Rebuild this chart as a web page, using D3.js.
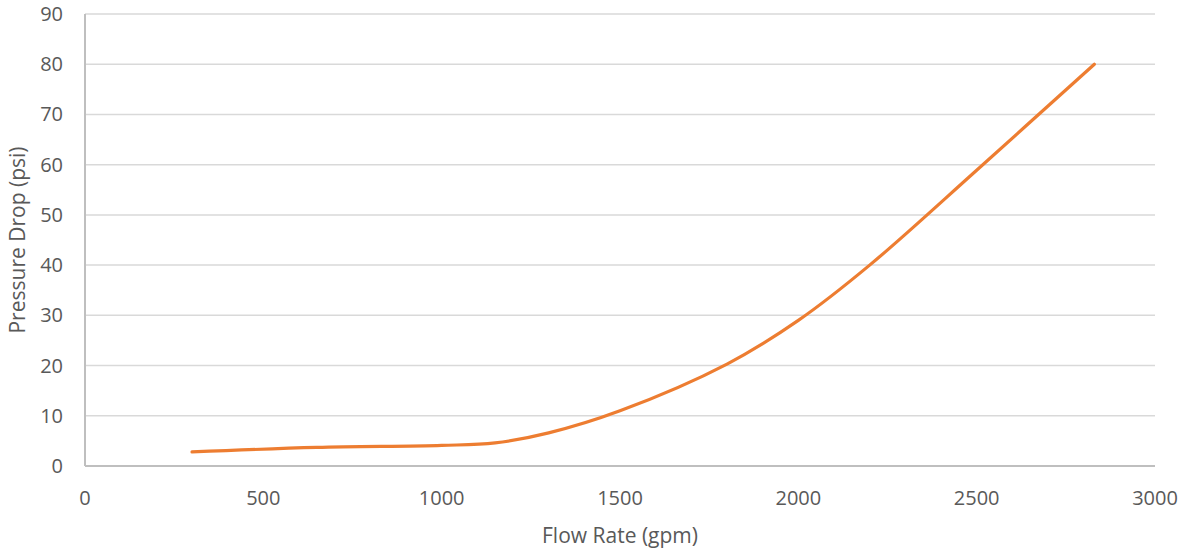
<!DOCTYPE html>
<html>
<head>
<meta charset="utf-8">
<script src="https://cdn.jsdelivr.net/npm/d3@7"></script>
<style>
  body { margin: 0; background: #fff; }
  text { font-family: "Open Sans", sans-serif; fill: #595959; }
</style>
</head>
<body>
<svg id="svg" width="1180" height="550"></svg>
<script>
// values
var flow = [300, 650, 1000, 1150, 1300, 1500, 1800, 2000, 2200, 2500, 2830];
var pressure = [2.8, 3.7, 4.1, 4.6, 6.6, 11, 20.3, 29, 40, 58.9, 80];
var xTicks = [0, 500, 1000, 1500, 2000, 2500, 3000];
var yTicks = [0, 10, 20, 30, 40, 50, 60, 70, 80, 90];

var svg = d3.select("#svg");
var plotLeft = 85, plotRight = 1155, plotTop = 14, plotBottom = 466;

var x = d3.scaleLinear().domain([0, 3000]).range([plotLeft, plotRight]);
var y = d3.scaleLinear().domain([0, 90]).range([plotBottom, plotTop]);

// gridlines
svg.append("g").selectAll("line").data(yTicks.filter(function(d) { return d > 0; })).enter()
  .append("line")
  .attr("x1", plotLeft).attr("x2", plotRight)
  .attr("y1", function(d) { return y(d); })
  .attr("y2", function(d) { return y(d); })
  .attr("stroke", "#d9d9d9")
  .attr("stroke-width", 1.5);

// axis lines
svg.append("line")
  .attr("x1", plotLeft).attr("x2", plotRight).attr("y1", y(0)).attr("y2", y(0))
  .attr("stroke", "#bfbfbf").attr("stroke-width", 2);
svg.append("line")
  .attr("x1", plotLeft).attr("x2", plotLeft).attr("y1", y(0)).attr("y2", y(90))
  .attr("stroke", "#bfbfbf").attr("stroke-width", 2);

// tick labels
svg.append("g").selectAll("text").data(yTicks).enter()
  .append("text")
  .attr("x", 63)
  .attr("y", function(d) { return y(d); })
  .attr("dy", "0.35em")
  .attr("text-anchor", "end")
  .attr("font-size", 20)
  .text(function(d) { return d; });

svg.append("g").selectAll("text").data(xTicks).enter()
  .append("text")
  .attr("x", function(d) { return x(d); })
  .attr("y", 498)
  .attr("dy", "0.35em")
  .attr("text-anchor", "middle")
  .attr("font-size", 20)
  .text(function(d) { return d; });

// axis titles
svg.append("text")
  .attr("x", (plotLeft + plotRight) / 2)
  .attr("y", 536)
  .attr("dy", "0.35em")
  .attr("text-anchor", "middle")
  .attr("font-size", 21)
  .text("Flow Rate (gpm)");

svg.append("text")
  .attr("transform", "translate(18," + (plotTop + plotBottom) / 2 + ") rotate(-90)")
  .attr("dy", "0.35em")
  .attr("text-anchor", "middle")
  .attr("font-size", 21)
  .text("Pressure Drop (psi)");

// curve
var line = d3.line()
  .x(function(d) { return x(d[0]); })
  .y(function(d) { return y(d[1]); })
  .curve(d3.curveCatmullRom.alpha(0.5));

svg.append("path")
  .datum(d3.zip(flow, pressure))
  .attr("d", line)
  .attr("fill", "none")
  .attr("stroke", "#ed7d31")
  .attr("stroke-width", 3.2)
  .attr("stroke-linecap", "round");
</script>
</body>
</html>
